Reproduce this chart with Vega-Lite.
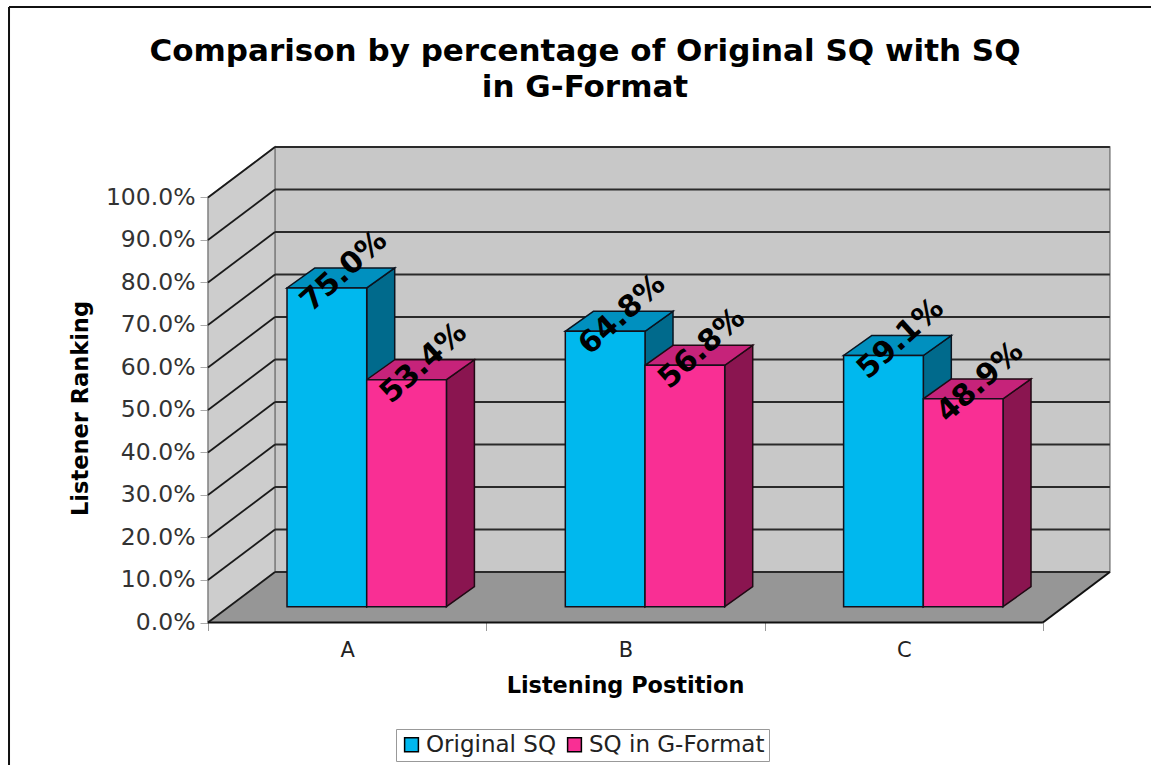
{
  "$schema": "https://vega.github.io/schema/vega-lite/v6.json",
  "width": 904,
  "height": 477.5,
  "autosize": "none",
  "padding": {"left": 208, "top": 145, "right": 39, "bottom": 142.5},
  "background": "white",
  "config": {"font": "DejaVu Sans", "view": {"stroke": null}},
  "title": {
    "text": ["Comparison by percentage of Original SQ with SQ", "in G-Format"],
    "anchor": "middle",
    "frame": "group",
    "dx": -75,
    "offset": -98,
    "fontSize": 31,
    "lineHeight": 36,
    "fontWeight": "bold",
    "color": "#000000"
  },
  "params": [
    {"name": "wallDx", "value": 0.2407},
    {"name": "wallDy", "value": 0.1188},
    {"name": "barStart", "value": 0.2839},
    {"name": "barWidth", "value": 0.2864},
    {"name": "barBase", "value": 0.0372},
    {"name": "barDx", "value": 0.1006},
    {"name": "barDy", "value": 0.047}
  ],
  "datasets": {
    "results": [
      {"position": "A", "series": "Original SQ", "value": 0.75},
      {"position": "A", "series": "SQ in G-Format", "value": 0.534},
      {"position": "B", "series": "Original SQ", "value": 0.648},
      {"position": "B", "series": "SQ in G-Format", "value": 0.568},
      {"position": "C", "series": "Original SQ", "value": 0.591},
      {"position": "C", "series": "SQ in G-Format", "value": 0.489}
    ],
    "levels": [
      {"level": 0}, {"level": 0.1}, {"level": 0.2}, {"level": 0.3}, {"level": 0.4}, {"level": 0.5},
      {"level": 0.6}, {"level": 0.7}, {"level": 0.8}, {"level": 0.9}, {"level": 1}
    ],
    "depths": [{"depth": 0}, {"depth": 1}],
    "single": [{"part": "plane"}],
    "edges": [{"edge": "top"}, {"edge": "left"}]
  },
  "data": {"name": "results"},
  "transform": [
    {"calculate": "indexof(['A','B','C'], datum.position) + barStart + (datum.series === 'Original SQ' ? 0 : barWidth)", "as": "left"},
    {"calculate": "datum.left + barWidth", "as": "right"},
    {"calculate": "barBase + datum.value", "as": "top"},
    {"calculate": "[0, 1]", "as": "depth"}
  ],
  "encoding": {
    "x": {
      "field": "x",
      "type": "quantitative",
      "stack": null,
      "scale": {"domain": [0, 3.2483], "nice": false, "zero": false},
      "axis": {
        "title": "Listening Postition",
        "titleFontSize": 22.4,
        "titleFontWeight": "bold",
        "titleColor": "#000000",
        "titleX": 417,
        "titleY": 52,
        "values": [0, 0.5, 1, 1.5, 2, 2.5, 3],
        "labelExpr": "datum.value === 0.5 ? 'A' : datum.value === 1.5 ? 'B' : datum.value === 2.5 ? 'C' : ''",
        "labelFontSize": 21,
        "labelColor": "#222222",
        "labelPadding": 9,
        "tickSize": 8,
        "tickColor": "#999999",
        "tickOpacity": {"condition": {"test": "datum.value % 1 === 0", "value": 1}, "value": 0},
        "domain": false,
        "grid": false,
        "labelFlush": false,
        "labelOverlap": false
      }
    },
    "y": {
      "field": "y",
      "type": "quantitative",
      "stack": null,
      "scale": {"domain": [0, 1.1235], "nice": false, "zero": false},
      "axis": {
        "title": "Listener Ranking",
        "titleFontSize": 22.5,
        "titleFontWeight": "bold",
        "titleColor": "#000000",
        "titleX": -116,
        "titleY": 263,
        "titleAngle": -90,
        "values": [0, 0.1, 0.2, 0.3, 0.4, 0.5, 0.6, 0.7, 0.8, 0.9, 1],
        "format": ".1%",
        "labelFontSize": 23.5,
        "labelColor": "#333333",
        "labelPadding": 5,
        "tickSize": 8,
        "tickColor": "#aaaaaa",
        "domain": false,
        "grid": false,
        "labelOverlap": false
      }
    }
  },
  "layer": [
    {
      "data": {"name": "edges"},
      "transform": [
        {"calculate": "-0.715", "as": "x"},
        {"calculate": "datum.edge === 'top' ? 3.4 : -0.715", "as": "x2"},
        {"calculate": "1.448", "as": "y"},
        {"calculate": "datum.edge === 'top' ? 1.448 : -0.34", "as": "y2"}
      ],
      "mark": {"type": "rule", "color": "#111111", "strokeWidth": 2, "clip": false},
      "encoding": {"x2": {"field": "x2"}, "y2": {"field": "y2"}}
    },
    {
      "data": {"name": "single"},
      "transform": [
        {"calculate": "wallDx", "as": "x"},
        {"calculate": "3 + wallDx", "as": "x2"},
        {"calculate": "wallDy", "as": "y"},
        {"calculate": "1 + wallDy", "as": "y2"}
      ],
      "mark": {"type": "rect", "fill": "#c8c8c8", "stroke": "#808080", "strokeWidth": 1.5},
      "encoding": {"x2": {"field": "x2"}, "y2": {"field": "y2"}}
    },
    {
      "data": {"name": "depths"},
      "transform": [
        {"calculate": "datum.depth * wallDx", "as": "x"},
        {"calculate": "datum.depth * wallDy", "as": "y"},
        {"calculate": "1 + datum.depth * wallDy", "as": "y2"}
      ],
      "mark": {"type": "area", "orient": "vertical", "fill": "#cdcdcd", "stroke": "#808080", "strokeWidth": 1.5},
      "encoding": {"y2": {"field": "y2"}}
    },
    {
      "data": {"name": "depths"},
      "transform": [
        {"calculate": "datum.depth * wallDx", "as": "x"},
        {"calculate": "3 + datum.depth * wallDx", "as": "x2"},
        {"calculate": "datum.depth * wallDy", "as": "y"}
      ],
      "mark": {"type": "area", "orient": "horizontal", "fill": "#969696"},
      "encoding": {"x2": {"field": "x2"}}
    },
    {
      "data": {"name": "levels"},
      "transform": [
        {"calculate": "wallDx", "as": "x"},
        {"calculate": "3 + wallDx", "as": "x2"},
        {"calculate": "datum.level + wallDy", "as": "y"}
      ],
      "mark": {"type": "rule", "color": "#2a2a2a", "strokeWidth": 1.8},
      "encoding": {"x2": {"field": "x2"}}
    },
    {
      "data": {"name": "levels"},
      "transform": [
        {"calculate": "0", "as": "x"},
        {"calculate": "wallDx", "as": "x2"},
        {"calculate": "datum.level", "as": "y"},
        {"calculate": "datum.level + wallDy", "as": "y2"}
      ],
      "mark": {"type": "rule", "color": "#1a1a1a", "strokeWidth": 1.8},
      "encoding": {"x2": {"field": "x2"}, "y2": {"field": "y2"}}
    },
    {
      "data": {"name": "single"},
      "transform": [
        {"calculate": "0", "as": "x"},
        {"calculate": "3", "as": "x2"},
        {"calculate": "0", "as": "y"}
      ],
      "mark": {"type": "rule", "color": "#111111", "strokeWidth": 2},
      "encoding": {"x2": {"field": "x2"}}
    },
    {
      "data": {"name": "single"},
      "transform": [
        {"calculate": "3", "as": "x"},
        {"calculate": "3 + wallDx", "as": "x2"},
        {"calculate": "0", "as": "y"},
        {"calculate": "wallDy", "as": "y2"}
      ],
      "mark": {"type": "rule", "color": "#111111", "strokeWidth": 2},
      "encoding": {"x2": {"field": "x2"}, "y2": {"field": "y2"}}
    },
    {
      "transform": [
        {"filter": "datum.series === 'Original SQ'"},
        {"flatten": ["depth"]},
        {"calculate": "datum.right + datum.depth * barDx", "as": "x"},
        {"calculate": "barBase + datum.depth * barDy", "as": "y"},
        {"calculate": "datum.top + datum.depth * barDy", "as": "y2"}
      ],
      "mark": {"type": "area", "orient": "vertical", "fill": "#006a8c", "stroke": "#0a1420", "strokeWidth": 1.5},
      "encoding": {"y2": {"field": "y2"}, "detail": {"field": "position"}}
    },
    {
      "transform": [
        {"filter": "datum.series === 'Original SQ'"},
        {"flatten": ["depth"]},
        {"calculate": "datum.left + datum.depth * barDx", "as": "x"},
        {"calculate": "datum.right + datum.depth * barDx", "as": "x2"},
        {"calculate": "datum.top + datum.depth * barDy", "as": "y"}
      ],
      "mark": {"type": "area", "orient": "horizontal", "fill": "#0090bf", "stroke": "#0a1420", "strokeWidth": 1.5},
      "encoding": {"x2": {"field": "x2"}, "detail": {"field": "position"}}
    },
    {
      "transform": [
        {"filter": "datum.series === 'SQ in G-Format'"},
        {"flatten": ["depth"]},
        {"calculate": "datum.right + datum.depth * barDx", "as": "x"},
        {"calculate": "barBase + datum.depth * barDy", "as": "y"},
        {"calculate": "datum.top + datum.depth * barDy", "as": "y2"}
      ],
      "mark": {"type": "area", "orient": "vertical", "fill": "#8a1550", "stroke": "#200a14", "strokeWidth": 1.5},
      "encoding": {"y2": {"field": "y2"}, "detail": {"field": "position"}}
    },
    {
      "transform": [
        {"filter": "datum.series === 'SQ in G-Format'"},
        {"flatten": ["depth"]},
        {"calculate": "datum.left + datum.depth * barDx", "as": "x"},
        {"calculate": "datum.right + datum.depth * barDx", "as": "x2"},
        {"calculate": "datum.top + datum.depth * barDy", "as": "y"}
      ],
      "mark": {"type": "area", "orient": "horizontal", "fill": "#c6237a", "stroke": "#200a14", "strokeWidth": 1.5},
      "encoding": {"x2": {"field": "x2"}, "detail": {"field": "position"}}
    },
    {
      "transform": [
        {"calculate": "datum.left", "as": "x"},
        {"calculate": "barBase", "as": "y"}
      ],
      "mark": {"type": "rect", "stroke": "#14101a", "strokeWidth": 1.5},
      "encoding": {
        "x2": {"field": "right"},
        "y2": {"field": "top"},
        "color": {
          "field": "series",
          "type": "nominal",
          "sort": ["Original SQ", "SQ in G-Format"],
          "scale": {"domain": ["Original SQ", "SQ in G-Format"], "range": ["#00b8ee", "#f92f94"]},
          "legend": {
            "title": null,
            "orient": "none",
            "direction": "horizontal",
            "columns": 2,
            "legendX": 188,
            "legendY": 584,
            "fillColor": "#ffffff",
            "strokeColor": "#999999",
            "padding": 4,
            "symbolType": "square",
            "symbolSize": 190,
            "symbolStrokeColor": "#000000",
            "symbolStrokeWidth": 1.5,
            "symbolOpacity": 1,
            "labelFontSize": 23,
            "labelLimit": 220,
            "labelColor": "#222222",
            "labelOffset": 3,
            "columnPadding": 6
          }
        }
      }
    },
    {
      "transform": [
        {"calculate": "(datum.left + datum.right + barDx) / 2 + 0.011", "as": "x"},
        {"calculate": "datum.top + barDy / 2 + 0.016", "as": "y"}
      ],
      "mark": {"type": "text", "fontSize": 30, "fontWeight": "bold", "color": "#000000", "angle": 318, "align": "center", "baseline": "middle"},
      "encoding": {"text": {"field": "value", "type": "quantitative", "format": ".1%"}}
    }
  ]
}
